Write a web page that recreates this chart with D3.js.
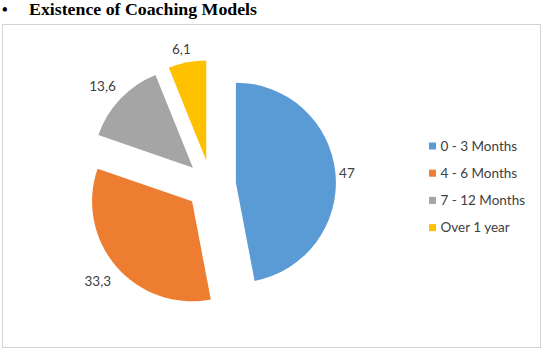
<!DOCTYPE html>
<html><head><meta charset="utf-8">
<script src="https://cdn.jsdelivr.net/npm/d3@7/dist/d3.min.js"></script>
<style>body{margin:0;background:#fff}svg{display:block}</style>
</head><body>
<svg id="c" width="549" height="350"></svg>
<script>
const categories = ["0 - 3 Months", "4 - 6 Months", "7 - 12 Months", "Over 1 year"];
const values = [47, 33.3, 13.6, 6.1];
const valueLabels = ["47", "33,3", "13,6", "6,1"];
const colors = ["#5B9BD5", "#ED7D31", "#A5A5A5", "#FFC000"];

const svg = d3.select("#c");

// title
const title = svg.append("text").attr("x", 2).attr("y", 15)
  .attr("font-family", "Liberation Serif, Times New Roman, serif")
  .attr("font-weight", "bold").attr("font-size", 16).attr("fill", "#000");
title.append("tspan").text("\u2022");
title.append("tspan").attr("x", 29).attr("textLength", 228).attr("lengthAdjust", "spacingAndGlyphs").text("Existence of Coaching Models");

// frame
svg.append("rect").attr("x", 2.5).attr("y", 24.5).attr("width", 538).attr("height", 323)
  .attr("fill", "#fff").attr("stroke", "#d4d4d4").attr("stroke-width", 1);

const cx = 211, cy = 185, r = 100, explode = 25;
const pie = d3.pie().sort(null).value(d => d)(values);
const arc = d3.arc().innerRadius(0).outerRadius(r);
const g = svg.append("g").attr("transform", `translate(${cx},${cy})`);

pie.forEach((p, i) => {
  const mid = (p.startAngle + p.endAngle) / 2;
  const dx = Math.sin(mid) * explode, dy = -Math.cos(mid) * explode;
  g.append("path").attr("d", arc(p)).attr("fill", colors[i])
    .attr("transform", `translate(${dx},${dy})`);
});

// labels
const lab = svg.append("g").attr("font-family", "Lato, Carlito, Calibri, sans-serif")
  .attr("font-size", 13.5).attr("fill", "#404040");
pie.forEach((p, i) => {
  const mid = (p.startAngle + p.endAngle) / 2;
  const ux = Math.sin(mid), uy = -Math.cos(mid);
  const t = lab.append("text").text(valueLabels[i]).attr("text-anchor", "middle");
  const bb = t.node().getBBox();
  const D = r + explode + 6 + Math.abs(ux) * bb.width / 2 + Math.abs(uy) * 7;
  t.attr("x", cx + ux * D - 3).attr("y", cy + uy * D + 6);
});

// legend
const leg = svg.append("g").attr("font-family", "Lato, Carlito, Calibri, sans-serif")
  .attr("font-size", 13.5).attr("fill", "#404040");
categories.forEach((c, i) => {
  const y = 146 + i * 27.2;
  leg.append("rect").attr("x", 429).attr("y", y - 3.5).attr("width", 7).attr("height", 7).attr("fill", colors[i]);
  leg.append("text").attr("x", 440.5).attr("y", y + 4.5).text(c);
});
</script>
</body></html>
